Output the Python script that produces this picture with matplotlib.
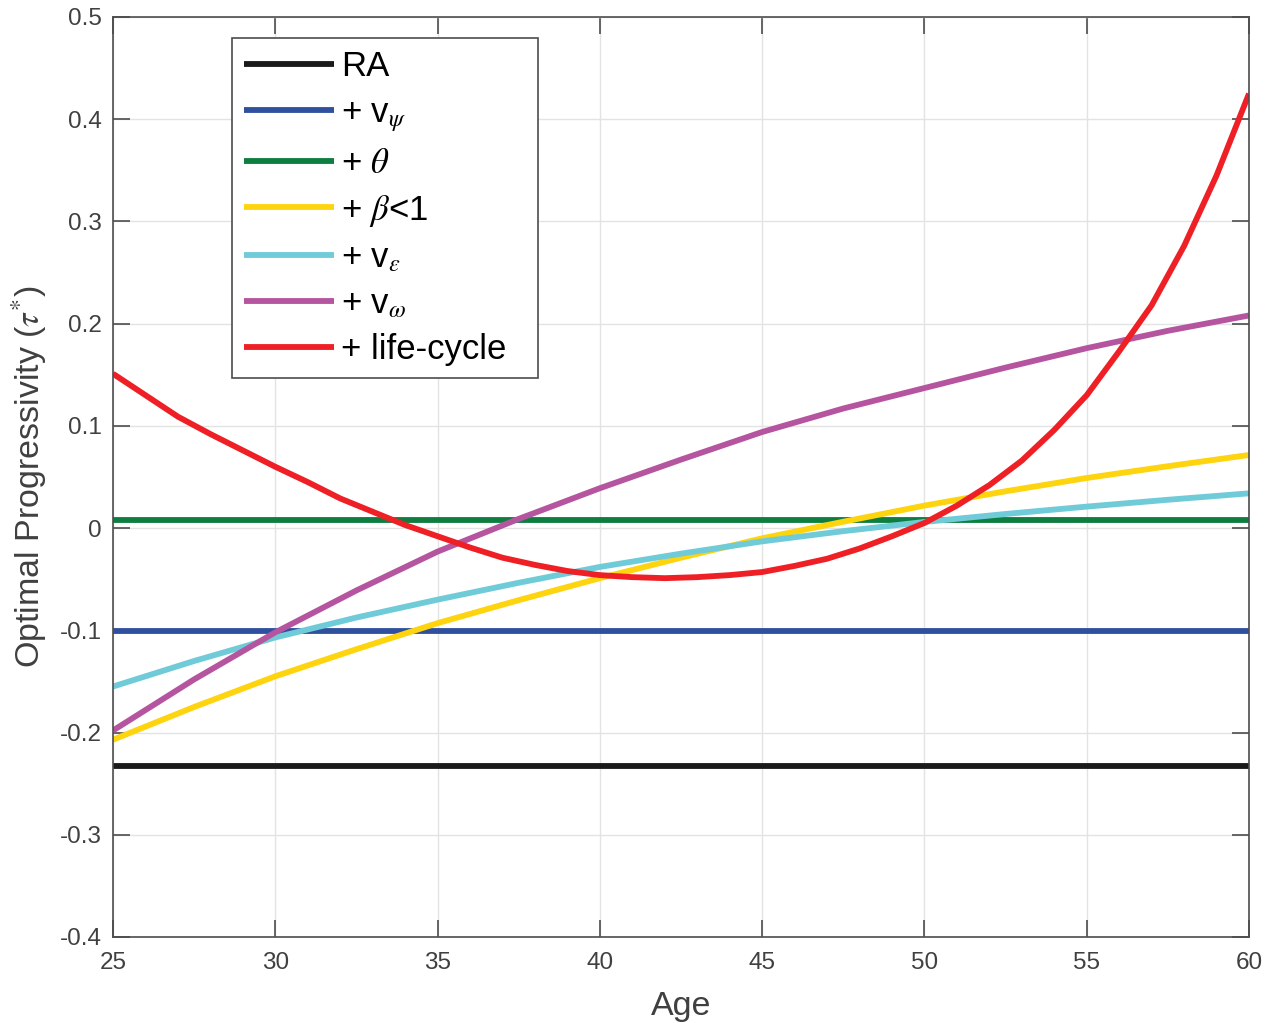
import matplotlib
matplotlib.use("Agg")
import matplotlib.pyplot as plt
import numpy as np

plt.rcParams["font.family"] = ["Liberation Sans", "DejaVu Sans"]
plt.rcParams["mathtext.fontset"] = "stix"

# curves (age -> optimal progressivity)
age_5 = [25, 27.5, 30, 32.5, 35, 37.5, 40, 42.5, 45, 47.5, 50, 52.5, 55, 57.5, 60]
ra = [-0.233] * len(age_5)
v_psi = [-0.101] * len(age_5)
theta = [0.008] * len(age_5)
beta = [-0.207, -0.175, -0.145, -0.1185, -0.093, -0.0705, -0.049, -0.029,
        -0.010, 0.0062, 0.022, 0.036, 0.049, 0.0605, 0.0715]
v_eps = [-0.155, -0.130, -0.107, -0.0875, -0.070, -0.0535, -0.038, -0.025,
         -0.013, -0.003, 0.006, 0.0138, 0.021, 0.0277, 0.034]
v_omega = [-0.198, -0.148, -0.102, -0.061, -0.023, 0.009, 0.039, 0.067,
           0.094, 0.117, 0.137, 0.157, 0.176, 0.193, 0.208]

age_1 = list(range(25, 61))
life_cycle = [0.151, 0.130, 0.109, 0.092, 0.076, 0.060, 0.045, 0.029, 0.016,
              0.003, -0.008, -0.019, -0.029, -0.036, -0.042, -0.046, -0.048,
              -0.049, -0.048, -0.046, -0.043, -0.037, -0.030, -0.020, -0.008,
              0.005, 0.022, 0.042, 0.066, 0.096, 0.130, 0.173, 0.218, 0.276,
              0.345, 0.425]

# trailing spaces on the longest label give the box its extra right margin
labels = ["RA", "+ v$_{\\psi}$", "+ $\\theta$", "+ $\\beta$<1",
          "+ v$_{\\epsilon}$", "+ v$_{\\omega}$", "+ life-cycle  "]
colors = ["#1a1a1a", "#2f4f9f", "#0d7e3f", "#fdd40e", "#70cbd9", "#b6559f", "#ee2025"]

fig = plt.figure(figsize=(12.67, 10.23), dpi=100)
ax = fig.add_axes([0.0892, 0.0841, 0.8966, 0.8993])

series = [(age_5, ra), (age_5, v_psi), (age_5, theta), (age_5, beta),
          (age_5, v_eps), (age_5, v_omega), (age_1, life_cycle)]
for (x, y), lab, c in zip(series, labels, colors):
    ax.plot(x, y, color=c, lw=4.2, label=lab, solid_capstyle="butt")

ax.set_xlim(25, 60)
ax.set_ylim(-0.4, 0.5)
ax.set_xticks(np.arange(25, 61, 5))
ax.set_yticks(np.arange(-0.4, 0.51, 0.1))
ax.set_yticklabels(["-0.4", "-0.3", "-0.2", "-0.1", "0", "0.1", "0.2", "0.3", "0.4", "0.5"])
ax.grid(True, color="#e3e3e3", lw=1)
ax.set_axisbelow(True)
ax.tick_params(direction="in", length=12, width=1.2, colors="#4d4d4d",
               labelcolor="#404040", labelsize=17.5, top=True, right=True, pad=8)
ax.tick_params(axis="x", pad=11)
for s in ax.spines.values():
    s.set_color("#4d4d4d")
    s.set_linewidth(1.2)

ax.set_xlabel("Age", fontsize=24.5, color="#404040", labelpad=12)
ax.set_ylabel("Optimal Progressivity ($\\tau^{*}$)", fontsize=24.5, color="#404040", labelpad=8)

leg = ax.legend(loc="upper left", bbox_to_anchor=(0.1048, 0.977), borderaxespad=0,
                fontsize=25, handlelength=2.6, handletextpad=0.2, labelspacing=0.37,
                borderpad=0.35, fancybox=False, framealpha=1, edgecolor="#4d4d4d")
leg.get_frame().set_linewidth(1.2)

fig.savefig("out.png", dpi=100)
